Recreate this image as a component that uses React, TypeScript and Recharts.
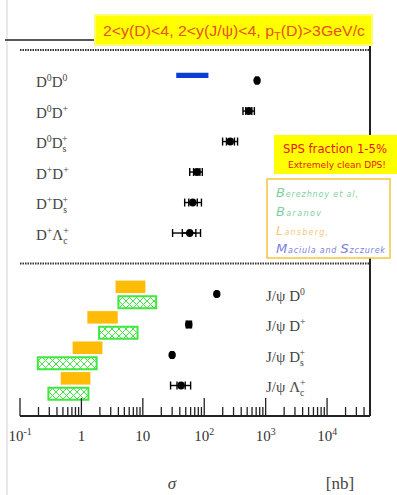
import React from 'react';
import { ScatterChart, Scatter, XAxis, YAxis, ErrorBar, ReferenceArea, ReferenceLine } from 'recharts';

// ---------- data ----------
const ddLabels = ['D^{0}D^{0}', 'D^{0}D^{+}', 'D^{0}D_{s}^{+}', 'D^{+}D^{+}', 'D^{+}D_{s}^{+}', 'D^{+}Λ_{c}^{+}'];
const ddRows = [11, 10, 9, 8, 7, 6];
const ddSigma = [725, 530, 265, 76, 65, 58];
const ddTotLo = [40, 103, 66, 18, 17, 27.5];
const ddTotHi = [40, 125, 84, 17, 25, 29];
const ddStatLo = [20, 55, 35, 9, 9, 14];
const ddStatHi = [20, 65, 45, 9, 12, 15];

const jdLabels = ['J/ψ D^{0}', 'J/ψ D^{+}', 'J/ψ D_{s}^{+}', 'J/ψ Λ_{c}^{+}'];
const jdRows = [4, 3, 2, 1];
const jdSigma = [160, 56, 30, 42];
const jdTotLo = [4, 5, 1.5, 13.7];
const jdTotHi = [4, 6, 1.5, 18];
const jdStatLo = [2, 3, 1, 6];
const jdStatHi = [2, 3, 1, 7];

// Lansberg (orange) and Baranov (green hatched) predictions for J/psi + D rows
const lansbergLo = [3.6, 1.25, 0.72, 0.46];
const lansbergHi = [11, 3.9, 2.2, 1.4];
const baranovLo = [4.0, 1.94, 0.195, 0.29];
const baranovHi = [16.5, 8.2, 1.77, 1.3];
// Maciula & Szczurek (blue) for D0D0
const maciulaLo = 35;
const maciulaHi = 117;

const majorTicks = [0.1, 1, 10, 100, 1000, 10000];
const majorLabels = ['10^{-1}', '1', '10', '10^{2}', '10^{3}', '10^{4}'];
const minorMultipliers = [2, 3, 4, 5, 6, 7, 8, 9];

const titleText = '2<y(D)<4, 2<y(J/ψ)<4, p_{T}(D)>3GeV/c';

// ---------- layout constants ----------
const W = 397;
const H = 495;
const PLOT_LEFT = 20;
const PLOT_RIGHT = 370;
const PLOT_TOP = 40;
const PLOT_BOTTOM = 416;
const SERIF = '"Liberation Serif", "DejaVu Serif", serif';
const SANS = '"Liberation Sans", Arial, sans-serif';

const xTicks: number[] = [];
majorTicks.forEach((m) => {
  xTicks.push(m);
  minorMultipliers.forEach((k) => {
    const v = m * k;
    if (v < 50000) xTicks.push(v);
  });
});

const ddData = ddSigma.map((s, i) => ({
  x: s, y: ddRows[i], label: ddLabels[i], tot: [ddTotLo[i], ddTotHi[i]], stat: [ddStatLo[i], ddStatHi[i]],
}));
const jdData = jdSigma.map((s, i) => ({
  x: s, y: jdRows[i], label: jdLabels[i], tot: [jdTotLo[i], jdTotHi[i]], stat: [jdStatLo[i], jdStatHi[i]],
}));

// ---------- rich text helper (sub/superscripts) ----------
type Part = { kind: 'n' | 'sup' | 'sub'; text: string };
function parse(s: string): Part[] {
  const out: Part[] = [];
  let i = 0;
  while (i < s.length) {
    const c = s[i];
    if ((c === '^' || c === '_') && s[i + 1] === '{') {
      const j = s.indexOf('}', i);
      out.push({ kind: c === '^' ? 'sup' : 'sub', text: s.slice(i + 2, j) });
      i = j + 1;
    } else {
      let j = i;
      while (j < s.length && !((s[j] === '^' || s[j] === '_') && s[j + 1] === '{')) j++;
      out.push({ kind: 'n', text: s.slice(i, j) });
      i = j;
    }
  }
  return out;
}
function rich(s: string, fs: number, supScale = 0.65) {
  const parts = parse(s);
  let cur = 0;
  return parts.map((p, i) => {
    const target = p.kind === 'sup' ? -fs * 0.4 : p.kind === 'sub' ? fs * 0.28 : 0;
    const dy = target - cur;
    cur = target;
    let dx = 0;
    const prev = parts[i - 1];
    if (p.kind === 'sup' && prev && prev.kind === 'sub') {
      dx = -prev.text.length * fs * supScale * 0.45;
    }
    return (
      <tspan key={i} dy={dy} dx={dx} fontSize={p.kind === 'n' ? fs : fs * supScale}>
        {p.text.replace(/ /g, '\u00a0')}
      </tspan>
    );
  });
}

// ---------- custom ticks / shapes ----------
const XTick = (props: any) => {
  const { x, payload } = props;
  const v = payload.value;
  const idx = majorTicks.findIndex((m) => Math.abs(m - v) / m < 1e-6);
  const major = idx >= 0;
  return (
    <g>
      <line x1={x} x2={x} y1={PLOT_BOTTOM} y2={PLOT_BOTTOM - (major ? 18 : 9)} stroke="#222" strokeWidth={1.3} />
      {major && (
        <text x={x} y={PLOT_BOTTOM + 25} textAnchor="middle" fontFamily={SERIF} fill="#333">
          {rich(majorLabels[idx], 15)}
        </text>
      )}
    </g>
  );
};

const Dot = (props: any) => {
  const { cx, cy } = props;
  return <ellipse cx={cx} cy={cy} rx={3.7} ry={4} fill="#000" />;
};

const makeLabel = (labelX: number, dyOff: number) => (props: any) => {
  const { cy, payload } = props;
  return (
    <text x={labelX} y={cy + dyOff} fontFamily={SERIF} fill="#444">
      {rich(payload.label, 15)}
    </text>
  );
};
const DDLabel = makeLabel(36, 6.5);
const JDLabel = makeLabel(266, 6.5);

// ---------- component ----------
export default function App() {
  return (
    <div style={{ position: 'absolute', left: 0, top: 0, width: W, height: H, background: '#fff' }}>
      <svg width={0} height={0} style={{ position: 'absolute' }}>
        <defs>
          <pattern id="xhatch" patternUnits="userSpaceOnUse" width={7} height={7}>
            <path d="M0,0 L7,7 M7,0 L0,7" stroke="#3ee83e" strokeWidth={1} />
          </pattern>
        </defs>
      </svg>
      <ScatterChart width={W} height={H} margin={{ top: PLOT_TOP, right: W - PLOT_RIGHT, left: PLOT_LEFT, bottom: H - PLOT_BOTTOM - 30 }}>
        <XAxis
          type="number"
          dataKey="x"
          scale="log"
          domain={[0.1, 50000]}
          allowDataOverflow
          ticks={xTicks}
          interval={0}
          height={30}
          tickLine={false}
          axisLine={{ stroke: '#222', strokeWidth: 2 }}
          tick={XTick}
        />
        <YAxis
          type="number"
          dataKey="y"
          domain={[0, 12.33]}
          allowDataOverflow
          width={0}
          tick={false}
          tickLine={false}
          axisLine={{ stroke: '#222', strokeWidth: 2 }}
        />
        <ReferenceLine y={12} stroke="#333" strokeWidth={2} strokeDasharray="1.5 1" />
        <ReferenceLine y={5} stroke="#333" strokeWidth={2} strokeDasharray="1.5 1" />
        <ReferenceArea x1={maciulaLo} x2={maciulaHi} y1={11.08} y2={11.26} fill="#0b3ed2" fillOpacity={1} stroke="none" />
        {jdRows.map((r, i) => (
          <ReferenceArea key={'l' + i} x1={lansbergLo[i]} x2={lansbergHi[i]} y1={r + 0.03} y2={r + 0.44} fill="#ffbb05" fillOpacity={1} stroke="none" />
        ))}
        {jdRows.map((r, i) => (
          <ReferenceArea key={'b' + i} x1={baranovLo[i]} x2={baranovHi[i]} y1={r - 0.47} y2={r - 0.07} fill="url(#xhatch)" fillOpacity={1} stroke="#3ee83e" strokeWidth={2} />
        ))}
        <Scatter data={ddData} shape={DDLabel} isAnimationActive={false} />
        <Scatter data={jdData} shape={JDLabel} isAnimationActive={false} />
        <Scatter data={ddData} shape={Dot} isAnimationActive={false}>
          <ErrorBar dataKey="tot" direction="x" width={4} stroke="#000" strokeWidth={1.4} />
          <ErrorBar dataKey="stat" direction="x" width={4} stroke="#000" strokeWidth={1.4} />
        </Scatter>
        <Scatter data={jdData} shape={Dot} isAnimationActive={false}>
          <ErrorBar dataKey="tot" direction="x" width={4} stroke="#000" strokeWidth={1.4} />
          <ErrorBar dataKey="stat" direction="x" width={4} stroke="#000" strokeWidth={1.4} />
        </Scatter>
      </ScatterChart>

      <svg width={W} height={H} style={{ position: 'absolute', left: 0, top: 0, pointerEvents: 'none' }}>
        <line x1={7} x2={7} y1={0} y2={H} stroke="#e2e2e2" strokeWidth={1.5} />
        <line x1={5} x2={PLOT_RIGHT} y1={PLOT_TOP} y2={PLOT_TOP} stroke="#222" strokeWidth={1.5} />
        <line x1={PLOT_RIGHT} x2={PLOT_RIGHT} y1={PLOT_TOP} y2={136} stroke="#222" strokeWidth={2} />
        <line x1={PLOT_RIGHT} x2={PLOT_RIGHT} y1={258} y2={PLOT_BOTTOM} stroke="#222" strokeWidth={2} />

        {/* title */}
        <rect x={95} y={15} width={277} height={30} fill="#ffff00" stroke="#ffff70" strokeWidth={2} />
        <text x={103} y={36} fontFamily={SANS} fontSize={15} fill="#e8501c" textLength={262} lengthAdjust="spacingAndGlyphs">
          {rich(titleText, 15, 0.7)}
        </text>

        {/* SPS box */}
        <rect x={274} y={135} width={123} height={39} fill="#ffff00" />
        <text x={335} y={153} textAnchor="middle" fontFamily={'"DejaVu Sans", sans-serif'} fontSize={11.5} fill="#e81515" textLength={104} lengthAdjust="spacingAndGlyphs">
          SPS fraction 1-5%
        </text>
        <text x={337} y={167.5} textAnchor="middle" fontFamily={'"DejaVu Sans", sans-serif'} fontSize={9.5} fill="#e81515" textLength={98} lengthAdjust="spacingAndGlyphs">
          Extremely clean DPS!
        </text>

        {/* legend box */}
        <rect x={267} y={179} width={123} height={79} fill="#fff" stroke="#f4c542" strokeWidth={1.5} />
        <text x={276} y={197} fontFamily={'"DejaVu Sans", sans-serif'} fill="#7fcf9f" fontStyle="italic" textLength={82} lengthAdjust="spacing">
          <tspan fontSize={13}>B</tspan><tspan fontSize={8}>erezhnoy et al,</tspan>
        </text>
        <text x={276} y={216} fontFamily={'"DejaVu Sans", sans-serif'} fill="#7fcf9f" fontStyle="italic" textLength={45} lengthAdjust="spacing">
          <tspan fontSize={13}>B</tspan><tspan fontSize={8}>aranov</tspan>
        </text>
        <text x={276} y={235} fontFamily={'"DejaVu Sans", sans-serif'} fill="#f8c77a" fontStyle="italic" textLength={52} lengthAdjust="spacing">
          <tspan fontSize={13}>L</tspan><tspan fontSize={8}>ansberg,</tspan>
        </text>
        <text x={276} y={253} fontFamily={'"DejaVu Sans", sans-serif'} fill="#7b7fe0" fontStyle="italic" textLength={109} lengthAdjust="spacing">
          <tspan fontSize={13}>M</tspan><tspan fontSize={8}>aciula and </tspan><tspan fontSize={13}>S</tspan><tspan fontSize={8}>zczurek</tspan>
        </text>

        {/* axis title */}
        <text x={172} y={489} textAnchor="middle" fontFamily={SERIF} fontStyle="italic" fontSize={17} fill="#444">σ</text>
        <text x={340} y={489} textAnchor="middle" fontFamily={SERIF} fontSize={17} fill="#444">[nb]</text>
      </svg>
    </div>
  );
}
